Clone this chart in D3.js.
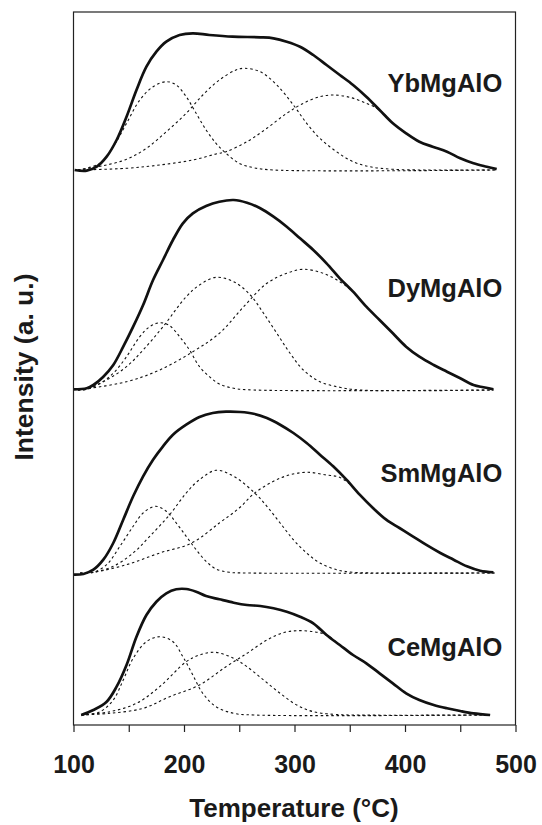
<!DOCTYPE html>
<html>
<head>
  <script src="https://cdn.jsdelivr.net/npm/d3@7"></script>
  <style>
    body { margin: 0; background: #fff; }
    svg text { font-family: "Liberation Sans", Arial, sans-serif; font-weight: bold; fill: #1a1a1a; }
  </style>
</head>
<body>
  <script>
    // samples, bottom to top, and the baseline offset of each trace (a.u.)
    const samples = ['CeMgAlO', 'SmMgAlO', 'DyMgAlO', 'YbMgAlO']
    const offsets = [1.0, 15.2, 33.5, 55.5]
    const xTicks = [100, 150, 200, 250, 300, 350, 400, 450, 500]

    // [temperature °C, intensity a.u.]
    const ceTotal = [[107,0],[118,0.5],[130,1.33],[139,2.83],[148,5],[157,7.83],[166,10],[175,11.33],[184,12.17],[193,12.57],[202,12.6],[211,12.33],[220,11.9],[232,11.57],[245,11.23],[257,11],[269,10.9],[281,10.67],[293,10.33],[305,9.83],[317,9.17],[329,8],[341,7],[353,6],[365,5.17],[377,4.17],[389,3.17],[401,2.17],[413,1.5],[426,1],[438,0.67],[450,0.4],[462,0.17],[477,0]]
    const cePeak1 = [[107,0],[124,0.33],[136,1.5],[145,3.5],[154,5.67],[166,7.33],[178,7.83],[190,7.33],[199,5.83],[208,4.0],[217,2.17],[229,0.83],[245,0.17],[263,0],[477,0]]
    const cePeak2 = [[107,0],[133,0.33],[157,1.17],[178,2.83],[202,5.33],[214,6.0],[228,6.27],[245,5.67],[257,4.83],[272,3.5],[287,2.17],[302,1.0],[317,0.33],[335,0.07],[353,0],[477,0]]
    const cePeak3 = [[107,0],[133,0.17],[163,0.67],[187,1.83],[214,3.0],[238,4.83],[257,6.17],[275,7.5],[290,8.23],[302,8.43],[317,8.33],[329,8],[341,7],[353,6],[365,5.17],[377,4.17],[389,3.17],[401,2.17],[413,1.5],[426,1],[438,0.67],[450,0.4],[462,0.17],[477,0]]

    const smTotal = [[100,-0.17],[109,-0.1],[118,0.33],[127,1.33],[136,3],[145,5.33],[154,7.67],[163,9.67],[172,11.33],[181,12.67],[190,13.83],[202,14.83],[214,15.6],[226,16],[238,16.13],[251,16.1],[263,15.93],[275,15.5],[287,14.83],[299,14],[311,13],[323,11.83],[335,10.67],[347,9.33],[359,7.83],[371,6.5],[383,5.33],[395,4.5],[407,3.67],[419,2.83],[432,2],[444,1.33],[456,0.67],[468,0.23],[480,0.07]]
    const smPeak1 = [[106,0],[118,0.07],[130,0.83],[142,2.67],[154,4.67],[163,6.0],[174,6.67],[184,6.17],[193,5.0],[202,3.67],[211,2.33],[220,1.17],[229,0.4],[241,0.07],[257,0],[481,0]]
    const smPeak2 = [[106,0],[118,0.07],[136,0.67],[154,2.0],[169,3.67],[187,5.83],[202,8.0],[214,9.33],[229,10.27],[245,9.67],[264,8.0],[275,6.67],[287,5.0],[299,3.33],[311,2.0],[323,1.0],[338,0.33],[353,0.07],[374,0],[481,0]]
    const smPeak3 = [[106,0],[118,0.07],[148,0.83],[178,2.0],[207,3.0],[232,5.0],[250,6.5],[264,8.0],[281,9.17],[296,9.83],[312,10.07],[329,9.8],[340,9.6],[350,8.9],[359,7.83],[371,6.5],[383,5.33],[395,4.5],[407,3.67],[419,2.83],[432,2],[444,1.33],[456,0.67],[468,0.23],[481,0.07]]

    const dyTotal = [[100,0.07],[112,0.17],[118,0.5],[127,1.33],[136,2.5],[145,4.33],[154,6.33],[163,8.5],[172,11],[181,13],[190,15],[199,16.67],[208,17.67],[220,18.4],[232,18.83],[245,19],[257,18.73],[269,18.17],[281,17.33],[293,16.33],[305,15.17],[317,14],[329,12.67],[341,11.17],[353,9.83],[365,8.33],[377,7],[389,5.67],[401,4.33],[413,3.33],[426,2.5],[438,1.83],[450,1.17],[462,0.5],[471,0.27],[480,0.07]]
    const dyPeak1 = [[104,0],[112,0.07],[124,0.67],[136,1.67],[148,3.33],[160,5.33],[169,6.33],[178,6.73],[187,6.43],[196,5.33],[205,4.0],[214,2.33],[223,1.33],[232,0.6],[245,0.17],[263,0],[480,0]]
    const dyPeak2 = [[104,0],[112,0.07],[130,1.0],[148,2.33],[163,4.0],[181,6.33],[202,9.33],[214,10.5],[229,11.27],[245,10.83],[260,9.5],[272,7.67],[284,5.67],[296,3.67],[308,2.0],[323,0.83],[341,0.27],[359,0],[480,0]]
    const dyPeak3 = [[104,0],[148,0.83],[178,2.0],[208,3.83],[232,5.67],[254,8.33],[275,10.67],[293,11.67],[308,12.07],[326,11.67],[341,10.83],[353,9.83],[365,8.33],[377,7],[389,5.67],[401,4.33],[413,3.33],[426,2.5],[438,1.83],[450,1.17],[462,0.5],[471,0.27],[480,0.07]]

    const ybTotal = [[101,0],[112,-0.07],[121,0.33],[130,1.33],[139,3.0],[148,5.33],[157,8.0],[166,10.33],[175,11.83],[184,12.83],[196,13.5],[208,13.67],[223,13.5],[244,13.33],[269,13.27],[281,13.17],[293,12.83],[305,12.33],[317,11.5],[329,10.5],[341,9.5],[353,8.5],[365,7.33],[377,6.0],[389,4.67],[401,3.67],[413,2.83],[425,2.33],[438,1.83],[450,1.17],[462,0.67],[474,0.33],[483,0.1]]
    const ybPeak1 = [[104,0],[124,0.67],[136,2.33],[148,4.67],[160,7.0],[172,8.33],[184,8.83],[193,8.5],[202,7.33],[211,5.67],[220,4.0],[229,2.67],[238,1.67],[250,0.67],[263,0.23],[281,0],[483,0]]
    const ybPeak2 = [[104,0],[127,0.43],[148,1.07],[166,2.17],[184,3.83],[202,5.67],[217,7.5],[232,9.0],[247,10.0],[255,10.17],[269,9.83],[284,8.5],[299,6.5],[311,4.67],[323,3.17],[338,1.83],[353,0.83],[368,0.33],[389,0.07],[419,0],[483,0]]
    const ybPeak3 = [[104,0],[148,0.17],[178,0.5],[208,1.0],[229,1.6],[238,1.83],[257,2.83],[275,4.17],[293,5.67],[308,6.67],[323,7.33],[335,7.5],[350,7.27],[365,6.67],[377,6.0],[389,4.67],[401,3.67],[413,2.83],[425,2.33],[438,1.83],[450,1.17],[462,0.67],[474,0.33],[483,0.1]]

    const totals = [ceTotal, smTotal, dyTotal, ybTotal]
    const peaks = [
      [cePeak1, cePeak2, cePeak3],
      [smPeak1, smPeak2, smPeak3],
      [dyPeak1, dyPeak2, dyPeak3],
      [ybPeak1, ybPeak2, ybPeak3]
    ]
    // where each sample name sits: right edge temperature, height above its baseline
    const labelAt = [[488, 5.9], [488, 9.1], [488, 9.3], [488, 7.8]]

    const width = 542, height = 825
    const svg = d3.select('body').append('svg')
      .attr('width', width).attr('height', height)

    const x = d3.scaleLinear().domain([100, 500]).range([73.5, 515.5])
    const y = d3.scaleLinear().domain([0, 71.3]).range([725, 12])

    const line = off => d3.line()
      .x(d => x(d[0]))
      .y(d => y(d[1] + off))
      .curve(d3.curveCatmullRom.alpha(0.5))

    samples.forEach((s, i) => {
      const g = svg.append('g')
      peaks[i].forEach(p => {
        g.append('path')
          .attr('d', line(offsets[i])(p))
          .attr('fill', 'none')
          .attr('stroke', '#111')
          .attr('stroke-width', 1.1)
          .attr('stroke-dasharray', '2.5,2.8')
      })
      g.append('path')
        .attr('d', line(offsets[i])(totals[i]))
        .attr('fill', 'none')
        .attr('stroke', '#111')
        .attr('stroke-width', 2.7)
        .attr('stroke-linejoin', 'round')
      g.append('text')
        .attr('x', x(labelAt[i][0]))
        .attr('y', y(labelAt[i][1] + offsets[i]))
        .attr('text-anchor', 'end')
        .attr('font-size', 25.5)
        .text(s)
    })

    // frame
    svg.append('rect')
      .attr('x', x(100)).attr('y', y(71.3))
      .attr('width', x(500) - x(100)).attr('height', y(0) - y(71.3))
      .attr('fill', 'none').attr('stroke', '#222').attr('stroke-width', 1.2)

    const axis = svg.append('g')
      .attr('transform', `translate(0,${y(0)})`)
      .call(d3.axisBottom(x).tickValues(xTicks).tickSize(7).tickPadding(23)
        .tickFormat(d => d % 100 === 0 ? d : ''))
    axis.select('.domain').remove()
    axis.selectAll('line').attr('stroke', '#222').attr('stroke-width', 1.2)
    axis.selectAll('text').attr('font-size', 25).attr('font-family', null)

    svg.append('text')
      .attr('x', 294).attr('y', 817)
      .attr('text-anchor', 'middle')
      .attr('font-size', 26)
      .text('Temperature (°C)')

    svg.append('text')
      .attr('transform', 'translate(32.5,367) rotate(-90)')
      .attr('text-anchor', 'middle')
      .attr('font-size', 26.5)
      .text('Intensity (a. u.)')
  </script>
</body>
</html>
